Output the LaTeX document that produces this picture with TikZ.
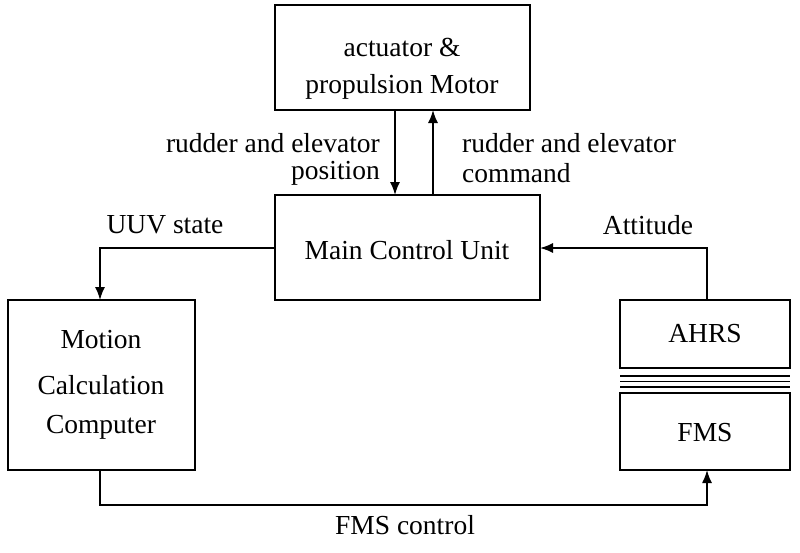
\documentclass[tikz,border=0pt]{standalone}
\usepackage{fontspec}
\setmainfont{Liberation Serif}
\usetikzlibrary{arrows.meta}
\begin{document}
\begin{tikzpicture}[x=1pt,y=-1pt,
  box/.style={draw,line width=1.5pt},
  t/.style={font=\fontsize{27.5}{30}\selectfont,inner sep=0pt},
  ar/.style={line width=1.5pt,-{Latex[length=13pt,width=10pt]}}]
\useasboundingbox (0,0) rectangle (800,552);
\draw[box] (275,5) rectangle (530,110);
\node[t] (a1) at (402,47) {actuator \&};
\node[t] (a2) at (402,87) {propulsion Motor};
\draw[box] (275,195) rectangle (540,300);
\node[t] (m) at (407,250) {Main Control Unit};
\draw[box] (8,300) rectangle (195,470);
\node[t] at (101,340) {Motion};
\node[t] at (101,385) {Calculation};
\node[t] at (101,427) {Computer};
\draw[box] (620,300) rectangle (790,368);
\node[t] at (705,334) {AHRS};
\draw[box] (620,393) rectangle (790,470);
\node[t] at (705,433) {FMS};
\draw[line width=1.8pt] (620,376)--(790,376) (620,381.5)--(790,381.5) (620,387)--(790,387);
\coordinate (p1) at (395,110); \coordinate (p2) at (395,195);
\coordinate (q1) at (433,195); \coordinate (q2) at (433,110);
\draw[ar] (p1)--(p2);
\draw[ar] (q1)--(q2);
\node[t,anchor=east] at (380,143) {rudder and elevator};
\node[t,anchor=east] at (380,173) {position};
\node[t,anchor=west] at (462,143) {rudder and elevator};
\node[t,anchor=west] at (462,173) {command};
\draw[ar] (275,248)--(100,248)--(100,300);
\node[t] at (165,225) {UUV state};
\draw[ar] (707,300)--(707,248)--(540,248);
\node[t] at (648,225) {Attitude};
\draw[ar] (100,470)--(100,505)--(707,505)--(707,470);
\node[t] at (405,525) {FMS control};
\end{tikzpicture}
\end{document}
